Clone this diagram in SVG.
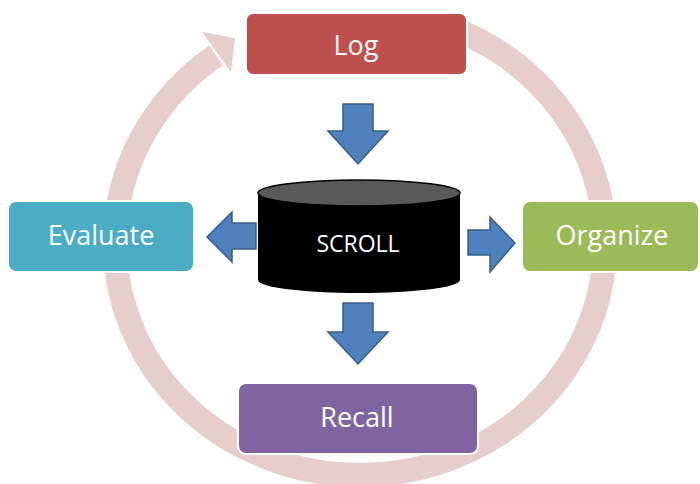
<svg xmlns="http://www.w3.org/2000/svg" width="700" height="484" viewBox="0 0 700 484">
  <style>
    .ring { fill: none; stroke: #E8CDCD; stroke-width: 24; }
    .ringhead { fill: #E8CDCD; }
    .box { stroke: #FFFFFF; stroke-width: 2; }
    .label { font-family: "Open Sans", "Noto Sans", sans-serif; font-size: 27px; fill: #FFFFFF; text-anchor: middle; }
    .blue { fill: #4F81BD; stroke: #385D8A; stroke-width: 1.5; stroke-linejoin: miter; }
  </style>
  <rect width="700" height="484" fill="#FFFFFF"/>

  <!-- circular cycle arrow behind the nodes -->
  <g id="cycle">
    <path class="ring" d="M 451.8 27.9 A 245 232 0 1 1 216 55.3"/>
    <polygon class="ringhead" points="202,32 235,38 231,72"/>
  </g>

  <!-- block arrows from the central store -->
  <g id="connectors">
    <polygon class="blue" points="343,104 373,104 373,131 388,131 358,164 328,131 343,131"/>
    <polygon class="blue" points="343,303 373,303 373,332 388,332 358,364 328,332 343,332"/>
    <polygon class="blue" points="256,223 232,223 232,212 207,237 232,262 232,249 256,249"/>
    <polygon class="blue" points="468,230 490,230 490,217 515,243 490,272 490,255 468,255"/>
  </g>

  <g id="scroll">
    <rect x="258" y="193" width="202" height="87" fill="#000000"/>
    <ellipse cx="359" cy="280" rx="101" ry="13" fill="#000000"/>
    <ellipse cx="359" cy="193" rx="101" ry="13" fill="#595959" stroke="#000000" stroke-width="1.5"/>
    <text class="label" x="358" y="252" style="font-size:23px">SCROLL</text>
  </g>

  <g id="log">
    <rect class="box" x="246" y="13" width="221" height="62" rx="7" fill="#C0504D"/>
    <text class="label" x="356" y="55">Log</text>
  </g>

  <g id="evaluate">
    <rect class="box" x="8" y="201" width="186" height="71" rx="8" fill="#4BACC6"/>
    <text class="label" x="101" y="245">Evaluate</text>
  </g>

  <g id="organize">
    <rect class="box" x="522" y="201" width="177" height="71" rx="8" fill="#9BBB59"/>
    <text class="label" x="612" y="245">Organize</text>
  </g>

  <g id="recall">
    <rect class="box" x="238" y="383" width="240" height="71" rx="8" fill="#8064A2"/>
    <text class="label" x="357" y="427">Recall</text>
  </g>
</svg>
